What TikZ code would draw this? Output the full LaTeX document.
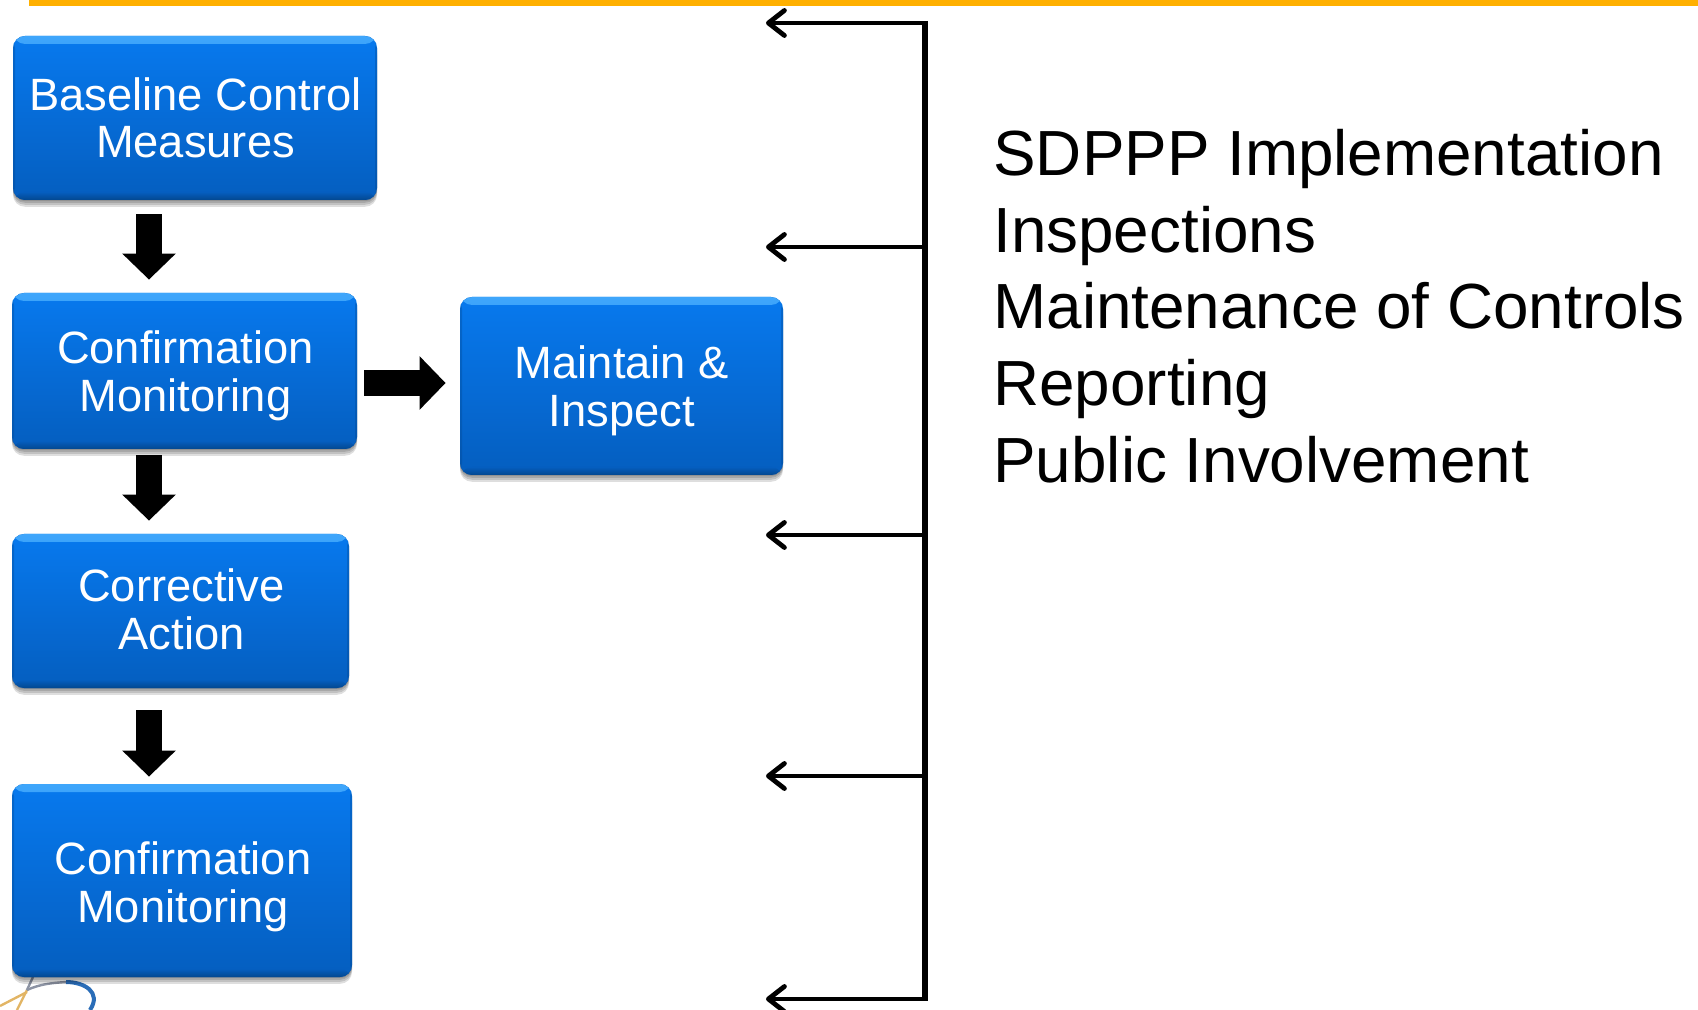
\documentclass[tikz,border=0pt]{standalone}
\usepackage{fontspec}
\setmainfont{Liberation Sans}
\usepackage{tikz}
\usetikzlibrary{arrows.meta,shadows}
\definecolor{barorange}{HTML}{FFB000}
\definecolor{boxtop}{HTML}{0779EE}
\definecolor{boxbottom}{HTML}{055EBF}
\definecolor{boxrim}{HTML}{3FA6FB}
\definecolor{boxedge}{HTML}{03478F}
\definecolor{logoblue}{HTML}{2A6DB8}
\definecolor{logogray}{HTML}{8C93A3}
\definecolor{logotan}{HTML}{E2B565}
\tikzset{
	softshadow/.style={drop shadow={shadow xshift=0pt, shadow yshift=#1, opacity=0.13, fill=black}},
	bluebox/.style={rounded corners=6pt, top color=boxtop, bottom color=boxbottom,
		softshadow=-0.6pt, softshadow=-1.4pt, softshadow=-2.4pt, softshadow=-3.4pt,
		path picture={
			\shade[top color=boxrim, bottom color=boxtop] (path picture bounding box.north west) rectangle ([yshift=-4pt]path picture bounding box.north east);
			\shade[top color=boxbottom, bottom color=boxedge] (path picture bounding box.south west) rectangle ([yshift=4pt]path picture bounding box.south east);
			\fill[boxedge, opacity=0.35] (path picture bounding box.south west) rectangle ([xshift=1pt]path picture bounding box.north west);
			\fill[boxedge, opacity=0.35] (path picture bounding box.south east) rectangle ([xshift=-1pt]path picture bounding box.north east);
		}},
	boxtext/.style={text=white, align=center, inner sep=0pt, font=\fontsize{22.65}{23.8}\selectfont},
	blockarrow/.style={line width=13pt, -{Triangle[length=13pt,width=26pt]}},
	brackline/.style={line width=2.4pt, -{Straight Barb[length=8pt,width=12.5pt,round]}},
}
\begin{document}
\begin{tikzpicture}[x=0.5pt,y=-0.5pt]
			%%%%% START %%%%%
			\useasboundingbox (0, 0) rectangle (1698, 1010);

			\fill[barorange] (29, 0) rectangle (1698, 6);

			% logo behind the last box
			\draw[line width=1.2pt, color=logotan] (0, 1006) -- (27, 992);
			\draw[line width=1.2pt, color=logotan] (17, 1010) -- (27, 990);
			\draw[line width=1.2pt, color=logogray] (33, 977) -- (27, 990);
			\draw[line width=1.2pt, color=logogray] (27, 990) .. controls (40, 984) and (52, 983) .. (66, 982);
			\draw[line width=2pt, color=logoblue] (66, 982) .. controls (84, 982) and (102, 992) .. (90, 1010);

			\node[bluebox, minimum width=182pt, minimum height=82pt] (baseline) at (195, 118) {};
			\node[bluebox, minimum width=172.5pt, minimum height=78pt] (confirmA) at (184.5, 371) {};
			\node[bluebox, minimum width=161.5pt, minimum height=89pt] (maintain) at (621.5, 386) {};
			\node[bluebox, minimum width=168.5pt, minimum height=77pt] (corrective) at (180.5, 611) {};
			\node[bluebox, minimum width=170pt, minimum height=96.5pt] (confirmB) at (182, 880.5) {};

			\node[boxtext] (baselinetext) at (195.5, 118) {Baseline Control\\Measures};
			\node[boxtext] (confirmAtext) at (185.5, 375.5) {Confirmation\\Monitoring};
			\node[boxtext] (maintaintext) at (622, 390.5) {Maintain \&\\Inspect};
			\node[boxtext] (correctivetext) at (181.5, 609.5) {Corrective\\Action};
			\node[boxtext] (confirmBtext) at (183, 886.5) {Confirmation\\Monitoring};

			\coordinate (arrowline) at (149, 0);
			\draw[blockarrow, shorten <=7pt, shorten >=6.5pt] (arrowline |- baseline.south) -- (arrowline |- confirmA.north);
			\draw[blockarrow, shorten <=3pt, shorten >=6.5pt] (arrowline |- confirmA.south) -- (arrowline |- corrective.north);
			\draw[blockarrow, shorten <=11pt, shorten >=3.5pt] (arrowline |- corrective.south) -- (arrowline |- confirmB.north);
			\draw[blockarrow, shorten <=3.5pt, shorten >=7pt] (confirmA.east |- 0, 383) -- (maintain.west |- 0, 383);

			\coordinate (brackettop) at (925, 21);
			\coordinate (bracketbottom) at (925, 1001);
			\draw[line width=2.7pt] (brackettop) -- (bracketbottom);
			\foreach \name/\ypos in {first/23, second/247, third/535, fourth/776, fifth/999}{
				\coordinate (from\name) at (brackettop |- 0, \ypos);
				\coordinate (to\name) at (766, \ypos);
				\draw[brackline] (from\name) -- (to\name);
			}

			\node[anchor=north west, inner sep=0pt, align=left, font=\fontsize{31.9}{38.45}\selectfont] (tasks) at (993, 128.5) {SDPPP Implementation\\Inspections\\Maintenance of Controls\\Reporting\\Public Involvement};
			%%%%% END %%%%%
\end{tikzpicture}
\end{document}
